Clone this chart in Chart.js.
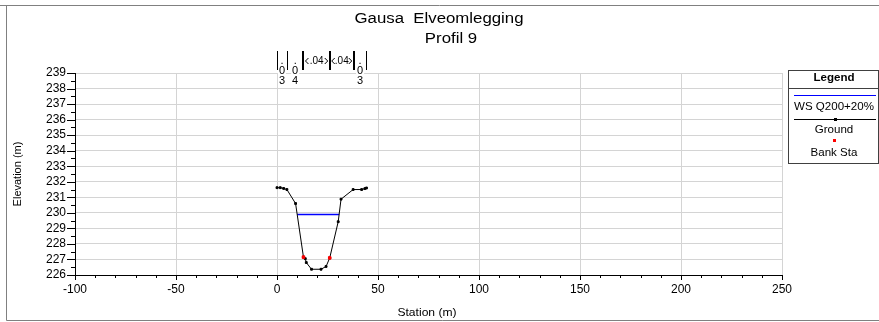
<!DOCTYPE html>
<html>
<head>
<meta charset="utf-8">
<title>Gausa Elveomlegging - Profil 9</title>
<script src="https://cdn.jsdelivr.net/npm/chart.js@4.4.1/dist/chart.umd.min.js"></script>
<style>
  html, body { margin: 0; padding: 0; background: #fff; }
  canvas { display: block; }
</style>
</head>
<body>
<canvas id="profileChart" width="879" height="322"></canvas>
<script>
// Ground profile (station m, elevation m)
const groundStation = [0, 1.6, 3.3, 4.9, 9.2, 13.1, 14.0, 14.5, 17.1, 21.8, 24.3, 26.1, 30.3, 31.7, 37.7, 41.9, 43.5, 44.3];
const groundElev    = [231.62, 231.62, 231.57, 231.5, 230.6, 227.15, 227.05, 226.8, 226.37, 226.37, 226.55, 227.1, 229.43, 230.88, 231.5, 231.5, 231.56, 231.6];

// Water surface Q200+20%
const wsStation = [10.0, 30.8];
const wsElev    = [229.9, 229.9];

// Bank stations
const bankStation = [13.1, 26.1];
const bankElev    = [227.15, 227.1];

// Manning's n breakpoints and values between them
const nStation = [0, 4.9, 13.1, 26.1, 38.0, 44.3];
const nValues  = ['.03', '.04', '.04', '.04', '.03'];

// Axis ticks
const xTicks = [-100, -50, 0, 50, 100, 150, 200, 250];
const yTicks = [226, 227, 228, 229, 230, 231, 232, 233, 234, 235, 236, 237, 238, 239];

const FONT = 'Arial, "Liberation Sans", sans-serif';

function zip(xs, ys) {
    return xs.map((x, i) => ({ x: x, y: ys[i] }));
}

// text drawn slightly wider than normal, like the old plot output
function wideText(ctx, text, x, y, size, opts) {
    opts = opts || {};
    ctx.save();
    ctx.font = (opts.bold ? 'bold ' : '') + size + 'px ' + FONT;
    ctx.fillStyle = opts.color || '#000';
    ctx.textAlign = opts.align || 'center';
    ctx.textBaseline = 'middle';
    ctx.translate(x, y);
    if (opts.rotate) ctx.rotate(opts.rotate);
    ctx.scale(opts.sx || 1.2, 1);
    ctx.fillText(text, 0, 0);
    ctx.restore();
}

const profileDecor = {
    id: 'profileDecor',
    beforeDraw(chart) {
        const ctx = chart.ctx;
        ctx.save();
        ctx.fillStyle = '#fff';
        ctx.fillRect(0, 0, chart.width, chart.height);
        ctx.restore();
    },
    afterDraw(chart) {
        const ctx = chart.ctx;
        const xs = chart.scales.x;
        const ys = chart.scales.y;
        const area = chart.chartArea;

        ctx.save();

        // outer frame
        ctx.strokeStyle = '#808080';
        ctx.lineWidth = 1;
        ctx.beginPath();
        ctx.moveTo(0, 5.5); ctx.lineTo(879, 5.5);
        ctx.moveTo(6.5, 5.5); ctx.lineTo(6.5, 320.5);
        ctx.lineTo(879, 320.5);
        ctx.stroke();

        // black axis ticks, major and minor
        ctx.strokeStyle = '#000';
        ctx.beginPath();
        for (let v = -100; v <= 250; v += 10) {
            const px = Math.round(xs.getPixelForValue(v)) + 0.5;
            const len = (v % 50 === 0) ? 5 : 3;
            ctx.moveTo(px, area.bottom);
            ctx.lineTo(px, area.bottom + len);
        }
        for (let v = 226; v <= 239; v += 0.5) {
            const py = Math.round(ys.getPixelForValue(v)) + 0.5;
            const len = (v % 1 === 0) ? 8 : 4;
            ctx.moveTo(area.left, py);
            ctx.lineTo(area.left - len, py);
        }
        ctx.stroke();

        // titles
        wideText(ctx, 'Gausa  Elveomlegging', 439, 19, 14);
        wideText(ctx, 'Profil 9', 451, 39, 14);
        wideText(ctx, 'Station (m)', 427, 313, 11, { sx: 1.1 });
        wideText(ctx, 'Elevation (m)', 18, 174, 11, { rotate: -Math.PI / 2, sx: 1.0 });

        // Manning's n annotation above the plot
        const top = 51, bottom = 70;
        const segPx = [];
        for (let i = 0; i < nValues.length; i++) {
            const a = xs.getPixelForValue(nStation[i]);
            const b = xs.getPixelForValue(nStation[i + 1]);
            segPx.push([a, b]);
        }
        // character stacks for narrow segments
        ctx.font = '11px ' + FONT;
        for (let i = 0; i < nValues.length; i++) {
            const [a, b] = segPx[i];
            if (b - a >= 20) continue;
            const cx = (a + b) / 2;
            ctx.fillStyle = '#fff';
            ctx.fillRect(cx - 4, 66, 8, 21);
            const chars = nValues[i].split('');
            chars.forEach((c, k) => {
                wideText(ctx, c, cx, 61 + k * 10, 11, { sx: 1.0 });
            });
        }
        // break lines
        ctx.strokeStyle = '#000';
        for (let i = 0; i < nStation.length; i++) {
            const left = segPx[i - 1], right = segPx[i];
            const wide = (left && left[1] - left[0] >= 20) || (right && right[1] - right[0] >= 20);
            ctx.lineWidth = wide ? 2 : 1;
            const px = Math.round(xs.getPixelForValue(nStation[i])) + (wide ? 0 : 0.5);
            ctx.beginPath();
            ctx.moveTo(px, top);
            ctx.lineTo(px, bottom);
            ctx.stroke();
        }
        // labelled spans with arrows
        for (let i = 0; i < nValues.length; i++) {
            const [a, b] = segPx[i];
            if (b - a < 20) continue;
            const cy = 61;
            wideText(ctx, nValues[i], (a + b) / 2, cy, 10, { sx: 1.0 });
            ctx.lineWidth = 1;
            ctx.beginPath();
            ctx.moveTo(a + 5, cy - 3); ctx.lineTo(a + 2, cy); ctx.lineTo(a + 5, cy + 3);
            ctx.moveTo(b - 5, cy - 3); ctx.lineTo(b - 2, cy); ctx.lineTo(b - 5, cy + 3);
            ctx.stroke();
        }

        // legend box
        const bx = 788.5, by = 70.5, bw = 90, bh = 93;
        ctx.strokeStyle = '#404040';
        ctx.lineWidth = 1;
        ctx.strokeRect(bx, by, bw, bh);
        ctx.beginPath();
        ctx.moveTo(bx, 88.5); ctx.lineTo(bx + bw, 88.5);
        ctx.stroke();
        const lcx = 834;
        wideText(ctx, 'Legend', lcx, 78, 10.5, { bold: true, sx: 1.1 });

        ctx.strokeStyle = '#0000ff';
        ctx.lineWidth = 1;
        ctx.beginPath();
        ctx.moveTo(794, 95.5); ctx.lineTo(876, 95.5);
        ctx.stroke();
        wideText(ctx, 'WS Q200+20%', lcx, 107, 11, { sx: 1.05 });

        ctx.strokeStyle = '#000';
        ctx.beginPath();
        ctx.moveTo(794, 119.5); ctx.lineTo(876, 119.5);
        ctx.stroke();
        ctx.fillStyle = '#000';
        ctx.fillRect(834, 118, 3, 3);
        wideText(ctx, 'Ground', lcx, 130, 11, { sx: 1.05 });

        ctx.fillStyle = '#ff0000';
        ctx.fillRect(833, 139, 3, 3);
        wideText(ctx, 'Bank Sta', lcx, 153, 11, { sx: 1.05 });

        ctx.restore();
    }
};

const ctx = document.getElementById('profileChart').getContext('2d');
const profileChart = new Chart(ctx, {
    type: 'scatter',
    data: {
        datasets: [
            {
                label: 'Bank Sta',
                data: zip(bankStation, bankElev),
                backgroundColor: '#ff0000',
                borderColor: '#ff0000',
                pointStyle: 'rect',
                pointRadius: 1.8,
                showLine: false,
                order: 0
            },
            {
                label: 'Ground',
                data: zip(groundStation, groundElev),
                borderColor: '#000000',
                backgroundColor: '#000000',
                borderWidth: 1,
                pointStyle: 'rect',
                pointRadius: 1.3,
                showLine: true,
                order: 1
            },
            {
                label: 'WS Q200+20%',
                data: zip(wsStation, wsElev),
                borderColor: '#0000ff',
                backgroundColor: '#0000ff',
                borderWidth: 1.5,
                pointRadius: 0,
                showLine: true,
                order: 2
            }
        ]
    },
    options: {
        responsive: false,
        animation: false,
        devicePixelRatio: 1,
        layout: {
            padding: { left: 0, top: 73, right: 97, bottom: 0 }
        },
        plugins: {
            legend: { display: false },
            title: { display: false },
            tooltip: { enabled: false }
        },
        scales: {
            x: {
                type: 'linear',
                min: -100,
                max: 250,
                afterBuildTicks: s => { s.ticks = xTicks.map(v => ({ value: v })); },
                afterFit: s => { s.height = 47; },
                grid: { color: '#d4d4d4', drawTicks: false },
                border: { color: '#000', width: 1 },
                ticks: {
                    color: '#000',
                    font: { family: FONT, size: 12 },
                    padding: 7,
                    maxRotation: 0,
                    autoSkip: false
                }
            },
            y: {
                type: 'linear',
                min: 226,
                max: 239,
                afterBuildTicks: s => { s.ticks = yTicks.map(v => ({ value: v })); },
                afterFit: s => { s.width = 75; },
                grid: { color: '#d4d4d4', drawTicks: false },
                border: { color: '#000', width: 1 },
                ticks: {
                    color: '#000',
                    font: { family: FONT, size: 12 },
                    padding: 9,
                    autoSkip: false
                }
            }
        }
    },
    plugins: [profileDecor]
});
</script>
</body>
</html>
